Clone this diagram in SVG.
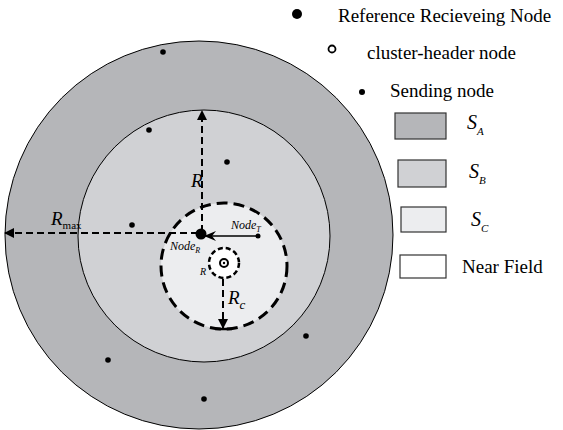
<svg xmlns="http://www.w3.org/2000/svg" width="563" height="430" viewBox="0 0 563 430">
  <style>
    .txt { font-family: "Liberation Serif", "Times New Roman", serif; fill: #000; }
    .it { font-style: italic; }
    .zone { stroke: #000; stroke-width: 1; }
    .sa { fill: #b5b6b9; }
    .sb { fill: #d0d1d4; }
    .sc { fill: #ecedef; }
    .nf { fill: #ffffff; }
    .key { stroke: #333; stroke-width: 1.2; }
    .dot { fill: #000; }
    .dash { fill: none; stroke: #000; stroke-width: 2; stroke-dasharray: 7 4; }
  </style>
  <defs>
    <marker id="tri" viewBox="0 0 10 10" refX="9" refY="5" markerWidth="10" markerHeight="10" markerUnits="userSpaceOnUse" orient="auto">
      <path d="M0,0 L10,5 L0,10 Z" fill="#000"/>
    </marker>
    <marker id="stealth" viewBox="0 0 12 10" refX="11" refY="5" markerWidth="12" markerHeight="10" markerUnits="userSpaceOnUse" orient="auto">
      <path d="M0,0 L12,5 L0,10 L4,5 Z" fill="#000"/>
    </marker>
  </defs>

  <!-- coverage zones -->
  <g id="zone-a"><circle class="zone sa" cx="199" cy="235" r="194"/></g>
  <g id="zone-b"><circle class="zone sb" cx="204" cy="236" r="126"/></g>
  <g id="zone-c"><circle cx="224" cy="266" r="63" class="sc" stroke="#000" stroke-width="3" stroke-dasharray="11 6"/></g>
  <g id="near-field"><circle cx="224" cy="263" r="15" fill="#fff" stroke="#000" stroke-width="2.5" stroke-dasharray="5 3"/></g>

  <!-- radius arrows and link -->
  <g id="connectors">
    <line class="dash" x1="202" y1="232" x2="202" y2="111" marker-end="url(#tri)"/>
    <line class="dash" x1="198" y1="233" x2="5" y2="233" marker-end="url(#tri)"/>
    <line class="dash" x1="223" y1="279" x2="223" y2="328" marker-end="url(#tri)"/>
    <line x1="215" y1="329" x2="232" y2="329" stroke="#000" stroke-width="2.5"/>
    <line x1="258" y1="236" x2="205" y2="236" stroke="#000" stroke-width="1.5" marker-end="url(#stealth)"/>
  </g>

  <!-- reference receiving node -->
  <g id="node-r">
    <circle class="dot" cx="201" cy="234" r="5.5"/>
    <text class="txt it" x="170" y="250" font-size="12">Node<tspan font-size="8" dy="3">R</tspan></text>
  </g>
  <!-- transmitting node -->
  <g id="node-t">
    <circle class="dot" cx="258" cy="236" r="2.5"/>
    <text class="txt it" x="231" y="229" font-size="12">Node<tspan font-size="8" dy="3">T</tspan></text>
  </g>
  <!-- cluster header -->
  <g id="cluster-header">
    <circle cx="224" cy="263" r="4" fill="#fff" stroke="#000" stroke-width="2"/>
    <circle class="dot" cx="224" cy="263" r="1.2"/>
    <text class="txt it" x="200" y="275" font-size="10">R</text>
  </g>

  <!-- radius labels -->
  <g id="labels">
    <text class="txt it" x="191" y="187" font-size="19">R</text>
    <text class="txt" x="51" y="225" font-size="19"><tspan class="it">R</tspan><tspan font-size="11" dy="4">max</tspan></text>
    <text class="txt it" x="228" y="304" font-size="19">R<tspan font-size="13" dy="5">c</tspan></text>
  </g>

  <!-- sending nodes -->
  <g id="senders">
    <circle class="dot" cx="163" cy="52" r="2.8"/>
    <circle class="dot" cx="149" cy="130" r="2.8"/>
    <circle class="dot" cx="227" cy="162" r="2.8"/>
    <circle class="dot" cx="132" cy="225" r="2.8"/>
    <circle class="dot" cx="306" cy="336" r="2.8"/>
    <circle class="dot" cx="108" cy="360" r="2.8"/>
    <circle class="dot" cx="204" cy="399" r="2.8"/>
  </g>

  <!-- legend -->
  <g id="legend">
    <circle class="dot" cx="297" cy="14" r="5"/>
    <text class="txt" x="338" y="22" font-size="19">Reference Recieveing Node</text>
    <circle cx="332" cy="49" r="3.5" fill="#fff" stroke="#000" stroke-width="1.8"/>
    <text class="txt" x="367" y="59" font-size="19">cluster-header node</text>
    <circle class="dot" cx="362" cy="92" r="3"/>
    <text class="txt" x="390" y="97" font-size="19">Sending node</text>
    <rect class="key sa" x="395" y="113" width="51" height="26"/>
    <text class="txt it" x="467" y="129" font-size="20">S<tspan font-size="11" dy="6">A</tspan></text>
    <rect class="key sb" x="398" y="160" width="48" height="27"/>
    <text class="txt it" x="469" y="178" font-size="20">S<tspan font-size="11" dy="6">B</tspan></text>
    <rect class="key sc" x="401" y="207" width="45" height="25"/>
    <text class="txt it" x="471" y="226" font-size="20">S<tspan font-size="11" dy="6">C</tspan></text>
    <rect class="key nf" x="400" y="255" width="46" height="23"/>
    <text class="txt" x="462" y="273" font-size="19">Near Field</text>
  </g>
</svg>
